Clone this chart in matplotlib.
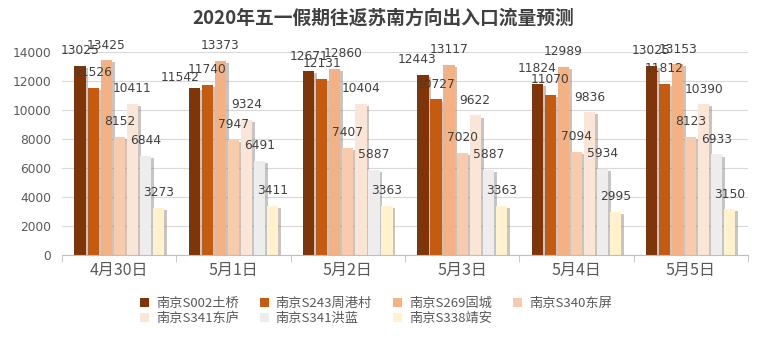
import numpy as np
import matplotlib
matplotlib.use("Agg")
import matplotlib.pyplot as plt
from matplotlib import patheffects as pe
from matplotlib.patches import Patch

plt.rcParams["font.family"] = ["Noto Sans CJK SC", "DejaVu Sans"]

# data
days = ["4月30日", "5月1日", "5月2日", "5月3日", "5月4日", "5月5日"]
series_names = ["南京S002土桥", "南京S243周港村", "南京S269固城", "南京S340东屏",
                "南京S341东庐", "南京S341洪蓝", "南京S338靖安"]
s002 = [13025, 11542, 12671, 12443, 11824, 13025]
s243 = [11526, 11740, 12131, 10727, 11070, 11812]
s269 = [13425, 13373, 12860, 13117, 12989, 13153]
s340 = [8152, 7947, 7407, 7020, 7094, 8123]
s341_dl = [10411, 9324, 10404, 9622, 9836, 10390]
s341_hl = [6844, 6491, 5887, 5887, 5934, 6933]
s338 = [3273, 3411, 3363, 3363, 2995, 3150]
values = [s002, s243, s269, s340, s341_dl, s341_hl, s338]
colors = ["#7F3508", "#C55A11", "#F4B183", "#F8CBAD", "#FBE5D6", "#EDEDED", "#FFF2CC"]

fig = plt.figure(figsize=(7.67, 3.40), dpi=100)
ax = fig.add_axes([0.081, 0.25, 0.894, 0.597])

x = np.arange(len(days))
n = len(values)
bw = 0.8 / n
shadow = [pe.SimplePatchShadow(offset=(2, -1.5), shadow_rgbFace="#7f7f7f", alpha=0.45),
          pe.Normal()]

# excel moved a couple of labels to dodge neighbours (series, day): (dx, dy) in points
nudge = {(0, 1): (-10, 7), (2, 2): (6, 11), (0, 3): (-4, 11)}

for i, (vals, c) in enumerate(zip(values, colors)):
    xs = x - 0.4 + bw * (i + 0.5)
    bars = ax.bar(xs, vals, width=bw * 0.86, color=c, zorder=2)
    for b in bars:
        b.set_path_effects(shadow)
    for j, (xi, v) in enumerate(zip(xs, vals)):
        ax.annotate(f"{v}", (xi, v), xytext=nudge.get((i, j), (0, 11)),
                    textcoords="offset points", ha="center", va="center",
                    fontsize=8.8, color="#404040", family="DejaVu Sans", zorder=5)

ax.set_ylim(0, 14000)
ax.set_yticks(np.arange(0, 14001, 2000))
ax.set_xlim(-0.5, len(days) - 0.5)
ax.set_xticks(x)
ax.set_xticklabels(days, fontsize=11.5, color="#595959")
ax.set_xticks(np.arange(-0.5, len(days), 1), minor=True)
ax.tick_params(axis="x", which="major", length=0, pad=5)
ax.tick_params(axis="x", which="minor", length=5, color="#BFBFBF")
ax.tick_params(axis="y", length=0, labelsize=8.8, labelcolor="#595959", pad=8)
for lab in ax.get_yticklabels():
    lab.set_family("DejaVu Sans")

ax.grid(axis="y", color="#D9D9D9", linewidth=0.8, zorder=0)
ax.set_axisbelow(True)
for s in ["top", "right", "left"]:
    ax.spines[s].set_visible(False)
ax.spines["bottom"].set_color("#BFBFBF")

fig.suptitle("2020年五一假期往返苏南方向出入口流量预测", x=0.5, y=0.975,
             fontsize=13.5, fontweight="bold", color="#404040")

# legend filled row by row like excel
order = [0, 4, 1, 5, 2, 6, 3]
handles = [Patch(facecolor=colors[k], label=series_names[k]) for k in order]
fig.legend(handles=handles, loc="center", bbox_to_anchor=(0.49, 0.085), ncol=4,
           frameon=False, fontsize=9.5, labelcolor="#595959", handlelength=0.7,
           handleheight=0.7, columnspacing=1.6, handletextpad=0.5, labelspacing=0.15)

fig.savefig("out.png", dpi=100)
